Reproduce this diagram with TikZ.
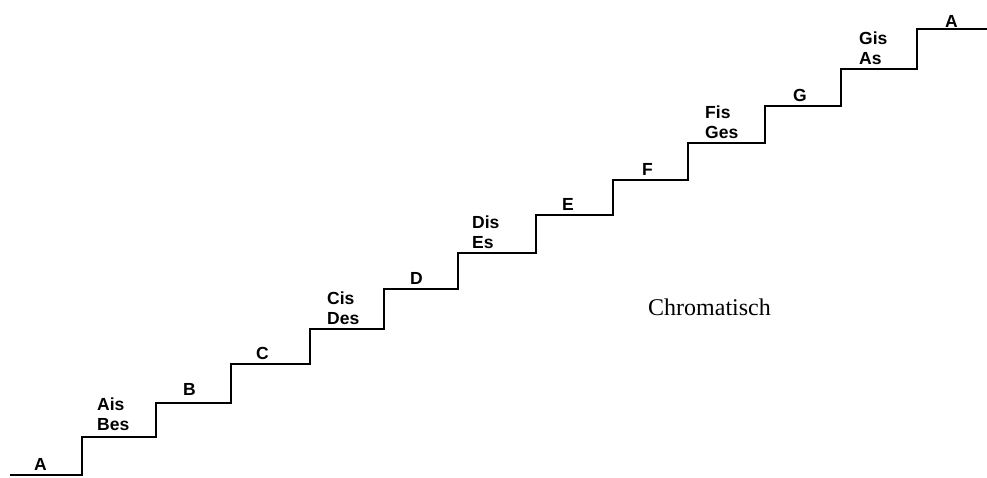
\documentclass[tikz,border=0pt]{standalone}
\usepackage{fontspec}
\setmainfont{Liberation Serif}
\newfontfamily\notefont{Liberation Sans}
\begin{document}
\begin{tikzpicture}
		[x=1pt,y=1pt,stair/.style={line width=2.2pt,line join=miter},
		note/.style={anchor=south west,inner sep=0pt,align=left,font=\notefont\bfseries\fontsize{17.5}{20}\selectfont}]
		\useasboundingbox (0,0) rectangle (987,477);
		\draw[line width=1.2pt] (10,2) -- (82,2);
		\draw[stair] (82,1) -- (82,40) -- (156,40) -- (156,74) -- (231,74) -- (231,113)
			-- (310,113) -- (310,148) -- (384,148) -- (384,188) -- (458,188) -- (458,224)
			-- (536,224) -- (536,262) -- (613,262) -- (613,297) -- (688,297) -- (688,334)
			-- (765,334) -- (765,371) -- (841,371) -- (841,408) -- (917,408) -- (917,448) -- (987,448);
		\node[note,name=a1]at(34,6){A};
		\node[note,name=ais]at(97,46){Ais\\Bes};
		\node[note,name=b]at(183,81){B};
		\node[note,name=c]at(256,117){C};
		\node[note,name=cis]at(327,152){Cis\\Des};
		\node[note,name=d]at(410,192){D};
		\node[note,name=dis]at(472,228){Dis\\Es};
		\node[note,name=e]at(562,266){E};
		\node[note,name=f]at(642,301){F};
		\node[note,name=fis]at(705,338){Fis\\Ges};
		\node[note,name=g]at(793,375){G};
		\node[note,name=gis]at(859,412){Gis\\As};
		\node[note,name=a2]at(945,449){A};
		\node[anchor=base west,inner sep=0pt,font=\fontsize{24}{28}\selectfont,name=title]at(648,162){Chromatisch};
	\end{tikzpicture}
\end{document}
